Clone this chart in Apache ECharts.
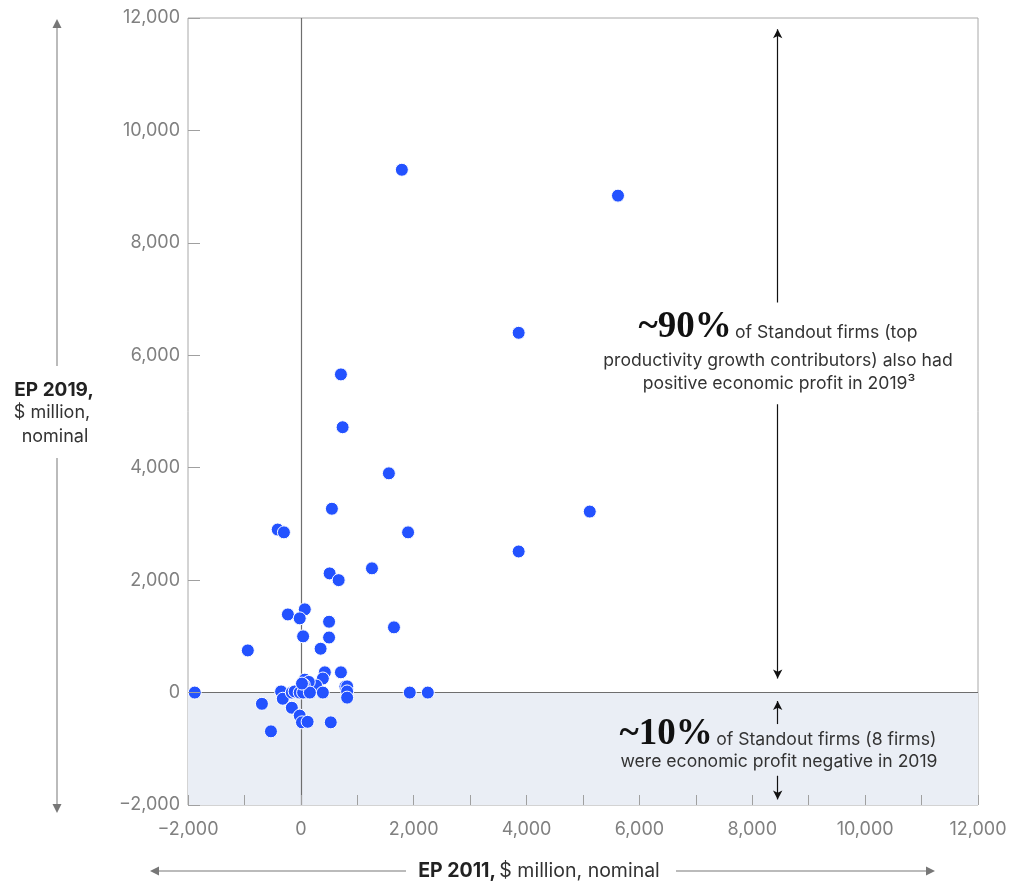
<!DOCTYPE html>
<html>
<head>
<meta charset="utf-8">
<script src="https://cdn.jsdelivr.net/npm/echarts@6/dist/echarts.min.js"></script>
<style>
html,body{margin:0;padding:0;background:#fff;}
#chart{width:1013px;height:882px;}
</style>
</head>
<body>
<div id="chart"></div>
<script>
// EP 2011 ($ million) for each Standout firm
var ep2011 = [1790, 5620, 3860, 710, 740, 1560, 550, 5120, -410, -300, 1900, 3860, 510, 670, 1260,
  70, -230, -20, 500, 1650, 40, 500, -940, 350, -1880, 1930, 2250,
  425, 710, 390, 270, 70, 140, 50, 390, 790, 820, 820, 820, -350, -320, -160, -110, -20, 40, 160, 20,
  -690, -160, -20, 20, 120, 530, -530];
// EP 2019 ($ million) for each Standout firm
var ep2019 = [9300, 8840, 6400, 5660, 4720, 3900, 3270, 3220, 2900, 2850, 2850, 2510, 2120, 2000, 2210,
  1480, 1390, 1320, 1260, 1160, 1000, 980, 750, 780, 0, 0, 0,
  360, 360, 250, 125, 230, 190, 140, 0, 110, 110, 20, -90, 20, -110, 0, 20, 0, 0, 0, 160,
  -200, -270, -410, -530, -520, -530, -690];

var xTicks = [-2000, 0, 2000, 4000, 6000, 8000, 10000, 12000];
var yTicks = [-2000, 0, 2000, 4000, 6000, 8000, 10000, 12000];

var points = ep2011.map(function (x, i) { return [x, ep2019[i]]; });

function fmt(v) {
  var s = Math.abs(v).toString().replace(/\B(?=(\d{3})+(?!\d))/g, ',');
  return (v < 0 ? '\u2212' : '') + s;
}

var chart = echarts.init(document.getElementById('chart'), null, {renderer: 'canvas'});
var labelFont = 'Inter';
var textFont = 'Inter';
var serif = 'Liberation Serif';
var dark = '#222';

var option = {
  backgroundColor: '#fff',
  animation: false,
  grid: {left: 188, right: 35, top: 18, bottom: 77, show: true, borderColor: '#a8a8a8', borderWidth: 1, backgroundColor: 'transparent'},
  xAxis: {
    type: 'value', min: xTicks[0], max: xTicks[xTicks.length - 1], interval: 1000, z: 10,
    axisLine: {show: false, onZero: false},
    axisTick: {show: true, inside: true, length: 10, lineStyle: {color: '#a0a0a0'}},
    splitLine: {show: false},
    axisLabel: {interval: 1, color: '#808080', fontFamily: labelFont, fontSize: 18, margin: 16,
      formatter: function (v) { return xTicks.indexOf(v) >= 0 ? fmt(v) : ''; }}
  },
  yAxis: {
    type: 'value', min: yTicks[0], max: yTicks[yTicks.length - 1], interval: 2000, z: 10,
    axisLine: {show: false, onZero: false},
    axisTick: {show: true, inside: true, length: 12, lineStyle: {color: '#a0a0a0'}},
    splitLine: {show: false},
    axisLabel: {color: '#808080', fontFamily: labelFont, fontSize: 18, margin: 8,
      formatter: function (v) { return fmt(v); }}
  },
  series: [
    {
      type: 'scatter', data: [], z: 1, silent: true,
      markArea: {silent: true, itemStyle: {color: '#eaeef5'},
        data: [[{coord: [xTicks[0], 0]}, {coord: [xTicks[xTicks.length - 1], yTicks[0]]}]]},
      markLine: {silent: true, symbol: 'none', label: {show: false},
        lineStyle: {color: '#6e6e6e', width: 1.2, type: 'solid'},
        data: [
          [{coord: [0, yTicks[0]]}, {coord: [0, yTicks[yTicks.length - 1]]}],
          [{coord: [xTicks[0], 0]}, {coord: [xTicks[xTicks.length - 1], 0]}]
        ]}
    },
    {
      type: 'scatter', data: [], z: 2, silent: true,
      markLine: {silent: true, label: {show: false}, symbolSize: [7, 9],
        lineStyle: {color: '#111', width: 1.2, type: 'solid'},
        data: [
          [{coord: [8450, 11800], symbol: 'arrow'}, {coord: [8450, 6940], symbol: 'none'}],
          [{coord: [8450, 5130], symbol: 'none'}, {coord: [8450, 250], symbol: 'arrow'}],
          [{coord: [8450, -560], symbol: 'none'}, {coord: [8450, -150], symbol: 'arrow'}],
          [{coord: [8450, -1480], symbol: 'none'}, {coord: [8450, -1900], symbol: 'arrow'}]
        ]}
    },
    {
      type: 'scatter', data: points, z: 5, symbolSize: 13,
      itemStyle: {color: '#2352ff', borderColor: '#fff', borderWidth: 1, opacity: 1}
    }
  ],
  graphic: [
    // annotation 1
    {type: 'text', z: 100, x: 778, y: 346, style: {
      text: '{b|~90%} {n|of Standout firms (top}', align: 'center', verticalAlign: 'bottom',
      rich: {b: {fontFamily: serif, fontWeight: 'bold', fontSize: 37, fill: '#111', verticalAlign: 'bottom'},
             n: {fontFamily: textFont, fontSize: 17.6, fill: '#333', verticalAlign: 'bottom', padding: [0, 0, 4, 0]}}}},
    {type: 'text', z: 100, x: 778, y: 361, style: {text: 'productivity growth contributors) also had', align: 'center', verticalAlign: 'middle',
      fontFamily: textFont, fontSize: 17.6, fill: '#333'}},
    {type: 'text', z: 100, x: 779, y: 384, style: {text: 'positive economic profit in 2019\u00b3', align: 'center', verticalAlign: 'middle',
      fontFamily: textFont, fontSize: 17.6, fill: '#333'}},
    // annotation 2
    {type: 'text', z: 100, x: 778, y: 753, style: {
      text: '{b|~10%} {n|of Standout firms (8 firms)}', align: 'center', verticalAlign: 'bottom',
      rich: {b: {fontFamily: serif, fontWeight: 'bold', fontSize: 37, fill: '#111', verticalAlign: 'bottom'},
             n: {fontFamily: textFont, fontSize: 17.6, fill: '#333', verticalAlign: 'bottom', padding: [0, 0, 4, 0]}}}},
    {type: 'text', z: 100, x: 779, y: 762, style: {text: 'were economic profit negative in 2019', align: 'center', verticalAlign: 'middle',
      fontFamily: textFont, fontSize: 17.6, fill: '#333'}},
    // y axis title
    {type: 'text', z: 100, x: 54, y: 390, style: {text: 'EP 2019,', align: 'center', verticalAlign: 'middle', fontFamily: textFont, fontWeight: 'bold', fontSize: 19, fill: dark}},
    {type: 'text', z: 100, x: 52, y: 413, style: {text: '$ million,', align: 'center', verticalAlign: 'middle', fontFamily: textFont, fontSize: 18, fill: '#333'}},
    {type: 'text', z: 100, x: 55, y: 437, style: {text: 'nominal', align: 'center', verticalAlign: 'middle', fontFamily: textFont, fontSize: 18, fill: '#333'}},
    {type: 'line', z: 100, shape: {x1: 57, y1: 27, x2: 57, y2: 366}, style: {stroke: '#a5a5a5', lineWidth: 1.5}},
    {type: 'line', z: 100, shape: {x1: 57, y1: 458, x2: 57, y2: 805}, style: {stroke: '#a5a5a5', lineWidth: 1.5}},
    {type: 'polygon', z: 100, shape: {points: [[57, 19], [52.5, 28], [61.5, 28]]}, style: {fill: '#777'}},
    {type: 'polygon', z: 100, shape: {points: [[57, 813], [52.5, 804], [61.5, 804]]}, style: {fill: '#777'}},
    // x axis title
    {type: 'text', z: 100, x: 539, y: 871, style: {text: '{b|EP 2011,} {n|$ million, nominal}', align: 'center', verticalAlign: 'middle',
      rich: {b: {fontFamily: textFont, fontWeight: 'bold', fontSize: 19.5, fill: dark}, n: {fontFamily: textFont, fontSize: 19.5, fill: '#333'}}}},
    {type: 'line', z: 100, shape: {x1: 158, y1: 871, x2: 406, y2: 871}, style: {stroke: '#a5a5a5', lineWidth: 1.5}},
    {type: 'line', z: 100, shape: {x1: 676, y1: 871, x2: 927, y2: 871}, style: {stroke: '#a5a5a5', lineWidth: 1.5}},
    {type: 'polygon', z: 100, shape: {points: [[150, 871], [159, 866.5], [159, 875.5]]}, style: {fill: '#777'}},
    {type: 'polygon', z: 100, shape: {points: [[935, 871], [926, 866.5], [926, 875.5]]}, style: {fill: '#777'}}
  ]
};
chart.setOption(option);
</script>
</body>
</html>
